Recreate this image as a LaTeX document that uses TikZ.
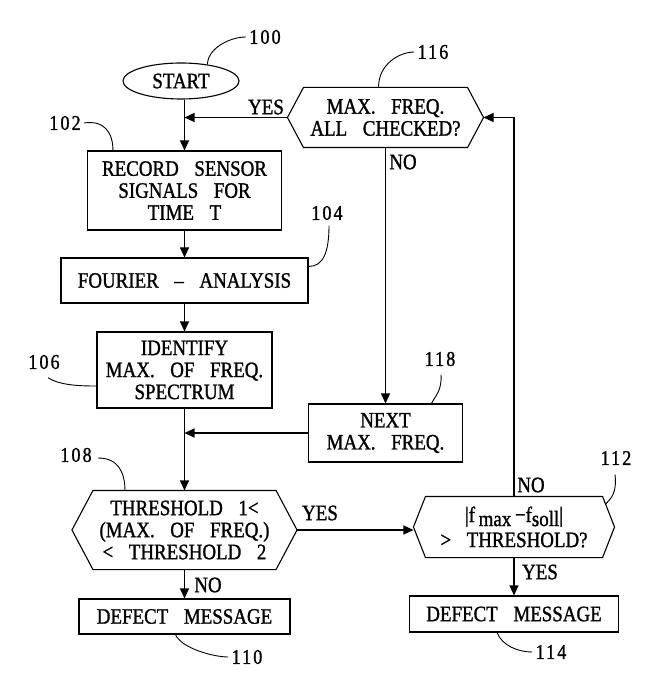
\documentclass[tikz,border=0pt]{standalone}
\usepackage{fontspec}
\setmainfont{Liberation Serif}[WordSpace=3.3, FakeStretch=0.86, FakeBold=1.2]
\newfontfamily\numfont{Liberation Serif}[LetterSpace=10, FakeStretch=0.86, FakeBold=1.2]
\usetikzlibrary{shapes.geometric,arrows.meta,calc}
\begin{document}
\begin{tikzpicture}[x=1pt,y=-1pt, line width=1.1pt,
  every node/.style={font=\fontsize{22}{22}\selectfont},
  box/.style={draw, rectangle, inner sep=0pt, align=center},
  hexin/.style={rectangle, inner sep=0pt, align=center},
  lbl/.style={inner sep=0pt, font=\numfont\fontsize{21}{22}\selectfont},
  arr/.style={-{Triangle[length=10pt,width=9pt]}},
  lead/.style={line width=0.9pt}]
\useasboundingbox (0,0) rectangle (651,700);
% nodes
\node[box, ellipse, minimum width=116pt, minimum height=36pt] (start) at (181,81) {START};
\node[box, minimum width=194pt, minimum height=79pt] (rec) at (184.5,190.5) {RECORD SENSOR\\SIGNALS FOR\\TIME T};
\node[box, minimum width=247pt, minimum height=45pt] (four) at (184.5,280.5) {FOURIER – ANALYSIS};
\node[box, minimum width=175pt, minimum height=76pt] (ident) at (184.5,370) {IDENTIFY\\MAX. OF FREQ.\\SPECTRUM};
\node[hexin, minimum width=182pt, minimum height=78pt] (thr) at (184.5,530) {THRESHOLD 1<\\(MAX. OF FREQ.)\\< THRESHOLD 2};
\node[box, minimum width=211pt, minimum height=35pt] (def1) at (184.5,616.5) {DEFECT MESSAGE};
\node[hexin, minimum width=163pt, minimum height=59pt] (chk) at (385.5,117.5) {MAX. FREQ.\\ALL CHECKED?};
\node[box, minimum width=154pt, minimum height=58pt] (next) at (385.5,433) {NEXT\\MAX. FREQ.};
\node[hexin, minimum width=176pt, minimum height=60pt, font=\fontsize{22}{25}\selectfont] (dev) at (514,527) {|f\raisebox{-4pt}{\,max}\,{−}f\raisebox{-4pt}{soll}|\\> THRESHOLD?};
\node[box, minimum width=209pt, minimum height=36pt] (def2) at (514,614) {DEFECT MESSAGE};
% hexagon outlines
\foreach \n/\d in {thr/21, chk/16, dev/12} {
  \draw (\n.north west) -- (\n.north east) -- ([xshift=\d pt]\n.east) -- (\n.south east)
     -- (\n.south west) -- ([xshift=-\d pt]\n.west) -- cycle;
  \coordinate (\n-e) at ([xshift=\d pt]\n.east);
  \coordinate (\n-w) at ([xshift=-\d pt]\n.west);
}
% connectors
\draw[arr] (start.south -| rec.north) -- (rec.north);
\draw[arr] (chk-w) -- (chk-w -| rec.north);
\draw[arr] (rec.south) -- (four.north);
\draw[arr] (four.south) -- (ident.north);
\draw[arr] (ident.south) -- (thr.north);
\draw[arr] (next.west) -- (next.west -| ident.south);
\draw[arr] (thr.south) -- (def1.north);
\draw[arr] (thr-e) -- (thr-e -| dev-w);
\draw[arr] (chk.south) -- (next.north);
\draw[arr] (dev.north) |- (chk-e);
\draw[arr] (dev.south) -- (def2.north);
% edge labels
\node (yes1) at (266,107) {YES};
\node (no1) at (403,162) {NO};
\node (yes2) at (320,513) {YES};
\node (no2) at (208,585) {NO};
\node (no3) at (531,485) {NO};
\node (yes3) at (540,572) {YES};
% reference numerals
\node[lbl] (l100) at (265,37) {100};
\node[lbl] (l102) at (65,123) {102};
\node[lbl] (l104) at (327,213) {104};
\node[lbl] (l116) at (433,52) {116};
\node[lbl] (l106) at (44,362) {106};
\node[lbl] (l108) at (76,455) {108};
\node[lbl] (l110) at (247,657) {110};
\node[lbl] (l118) at (440,359) {118};
\node[lbl] (l112) at (616,458) {112};
\node[lbl] (l114) at (551,652) {114};
% leaders
\draw[lead] (start.32) .. controls +(0,-16) and +(-16,0) .. ([xshift=-3pt]l100.west);
\draw[lead] ([xshift=3pt]l102.east) .. controls +(20,-3) and +(0,-18) .. ([xshift=26pt]rec.north west);
\draw[lead] ($(l104.south)+(2,5)$) .. controls +(0,28) and +(14,0) .. ($(four.east)+(0,-14)$);
\draw[lead] ([xshift=-7pt]chk.north) .. controls +(0,-24) and +(-14,0) .. ([xshift=-3pt]l116.west);
\draw[lead] ($(l106.south)+(4,8)$) .. controls +(12,8) and +(-15,0) .. ($(ident.west)+(0,16)$);
\draw[lead] ($(l108.east)+(6,3)$) .. controls +(20,0) and +(0,-18) .. ([xshift=32pt]thr.north west);
\draw[lead] ([xshift=-9pt]def1.south) .. controls +(6,14) and +(-14,0) .. ([xshift=-3pt]l110.west);
\draw[lead] ($(l118.south)+(1,8)$) .. controls +(1,16) and +(4,-8) .. ([xshift=46pt]next.north);
\draw[lead] ($(l112.south)+(-1,9)$) .. controls +(2,18) and +(6,-6) .. ($(dev.north east)!0.25!(dev-e)$);
\draw[lead] ([xshift=-17pt]def2.south) .. controls +(5,13) and +(-14,0) .. ([xshift=-3pt]l114.west);
\end{tikzpicture}
\end{document}
